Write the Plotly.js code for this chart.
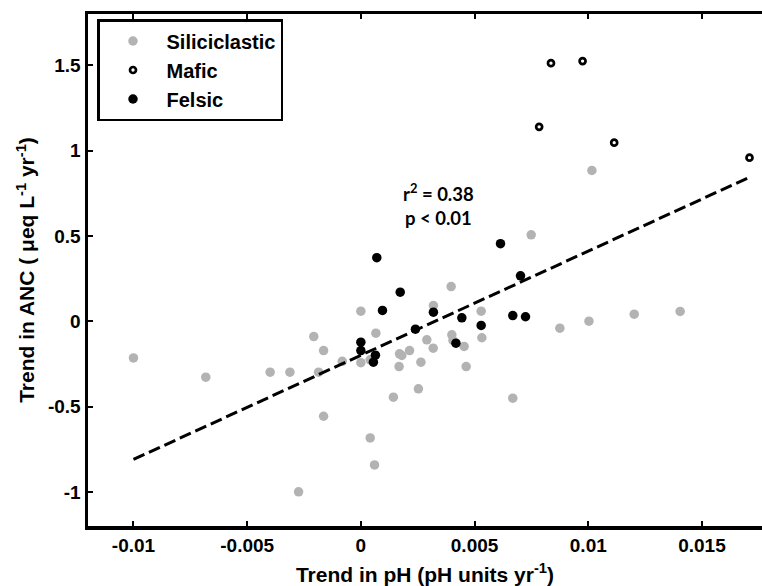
<!DOCTYPE html>
<html>
<head>
<meta charset="utf-8">
<script src="https://cdn.plot.ly/plotly-3.0.1.min.js"></script>
<style>html,body{margin:0;padding:0;background:#fff;overflow:hidden;}</style>
</head>
<body>
<div id="chart" style="width:762px;height:586px;"></div>
<script>
// Siliciclastic sites
const siliX = [-0.01, -0.00682, -0.00399, -0.00312, -0.00207, -0.00164, -0.00186, -0.00082, 0, 0.00066,
  0, 0.00041, -0.00164, 0.00041, 0.0006, -0.00274, 0.00319, 0.00529, 0.00875, 0.01003,
  0.01202, 0.01404, 0.0029, 0.0040, 0.00405, 0.00532, 0.00318, 0.00454, 0.00214, 0.0017,
  0.0018, 0.00264, 0.00168, 0.00463, 0.00253, 0.00143, 0.00668, 0.01016, 0.00749, 0.00397];
const siliY = [-0.215, -0.328, -0.299, -0.299, -0.090, -0.172, -0.299, -0.235, 0.059, -0.070,
  -0.243, -0.226, -0.557, -0.684, -0.842, -1.0, 0.092, 0.059, -0.041, 0.000,
  0.041, 0.057, -0.109, -0.080, -0.113, -0.097, -0.158, -0.148, -0.172, -0.191,
  -0.201, -0.240, -0.266, -0.266, -0.396, -0.445, -0.451, 0.883, 0.506, 0.203];
// Mafic sites
const maficX = [0.00836, 0.00975, 0.00784, 0.01114, 0.01709];
const maficY = [1.512, 1.524, 1.139, 1.046, 0.958];
// Felsic sites
const felsX = [0.00070, 0.00173, 0.00614, 0.00702, 0.00095, 0.00319, 0.00444, 0.00529, 0.00668, 0.00724,
  0.00240, 0.00418, 0, 0, 0.00064, 0.00055];
const felsY = [0.372, 0.170, 0.454, 0.266, 0.063, 0.053, 0.020, -0.025, 0.033, 0.026,
  -0.047, -0.129, -0.123, -0.172, -0.199, -0.240];
// Regression line end points
const fitX = [-0.01, 0.017];
const fitY = [-0.81, 0.838];
// Ticks
const xTickVals = [-0.01, -0.005, 0, 0.005, 0.01, 0.015];
const xTickText = ['-0.01', '-0.005', '0', '0.005', '0.01', '0.015'];
const yTickVals = [-1, -0.5, 0, 0.5, 1, 1.5];
const yTickText = ['-1', '-0.5', '0', '0.5', '1', '1.5'];

const FONT = 'Liberation Sans, Arial, sans-serif';
const traces = [
  {x: siliX, y: siliY, type: 'scatter', mode: 'markers', name: 'Siliciclastic',
   marker: {color: '#b3b3b3', size: 9.5}},
  {x: maficX, y: maficY, type: 'scatter', mode: 'markers', name: 'Mafic',
   marker: {color: '#ffffff', size: 6, line: {color: '#000', width: 2.7}}},
  {x: felsX, y: felsY, type: 'scatter', mode: 'markers', name: 'Felsic',
   marker: {color: '#000000', size: 9.5}},
  {x: fitX, y: fitY, type: 'scatter', mode: 'lines', showlegend: false,
   line: {color: '#000', width: 3, dash: '12px,5px'}}
];
const layout = {
  width: 762, height: 586,
  margin: {l: 88, r: 0, t: 14, b: 60},
  paper_bgcolor: '#fff', plot_bgcolor: '#fff',
  showlegend: true,
  legend: {x: 9 / 674, y: (526 - 19) / 512, xanchor: 'left', yanchor: 'top',
    bgcolor: '#fff', bordercolor: '#000', borderwidth: 2.5,
    font: {family: FONT, size: 20, color: '#000', weight: 'bold'}, itemwidth: 57},
  xaxis: {range: [-0.012, 0.01764], showgrid: false, zeroline: false,
    showline: true, linewidth: 3.5, linecolor: '#000', mirror: 'ticks',
    ticks: 'inside', ticklen: 5, tickwidth: 2, tickcolor: '#000',
    tickvals: xTickVals, ticktext: xTickText,
    tickfont: {family: FONT, size: 19, color: '#000', weight: 'bold'},
    title: {text: 'Trend in pH (pH units yr<sup>-1</sup>)', standoff: 14,
      font: {family: FONT, size: 21, color: '#000', weight: 'bold'}}},
  yaxis: {range: [-1.2, 1.8], showgrid: false, zeroline: false,
    showline: true, linewidth: 3.5, linecolor: '#000', mirror: false,
    ticks: 'inside', ticklen: 5, tickwidth: 2, tickcolor: '#000',
    tickvals: yTickVals, ticktext: yTickText,
    tickfont: {family: FONT, size: 19, color: '#000', weight: 'bold'},
    title: {text: 'Trend in ANC ( μeq L<sup>-1</sup> yr<sup>-1</sup>)', standoff: 8,
      font: {family: FONT, size: 21, color: '#000', weight: 'bold'}}},
  annotations: [
    {xref: 'paper', yref: 'paper', x: (438 - 88) / 674, y: (526 - 204) / 512,
     xanchor: 'center', yanchor: 'middle', showarrow: false, align: 'center',
     text: 'r<sup>2</sup> = 0.38<br>p < 0.01',
     font: {family: 'Lato, Carlito, sans-serif', size: 18.5, color: '#000', weight: 'bold'}}
  ]
};
Plotly.newPlot('chart', traces, layout, {displayModeBar: false, staticPlot: true});
</script>
</body>
</html>
